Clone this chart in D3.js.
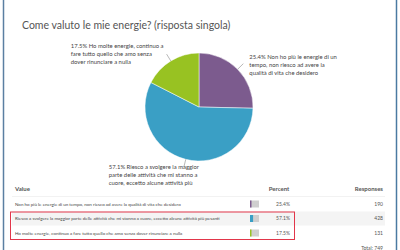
<!DOCTYPE html>
<html>
<head>
<meta charset="utf-8">
<script src="https://cdn.jsdelivr.net/npm/d3@7"></script>
<style>
  body { margin: 0; background: #fff; }
  svg { display: block; font-family: Lato, 'Open Sans', sans-serif; }
</style>
</head>
<body>
<div class="container"></div>
<script>
var title = 'Come valuto le mie energie? (risposta singola)';
var answers = [
  'Non ho più le energie di un tempo, non riesco ad avere la qualità di vita che desidero',
  'Riesco a svolgere la maggior parte delle attività che mi stanno a cuore, eccetto alcune attività più pesanti',
  'Ho molte energie, continuo a fare tutto quello che amo senza dover rinunciare a nulla'
];
var pieLabels = [
  ['25.4% Non ho più le energie di un', 'tempo, non riesco ad avere la', 'qualità di vita che desidero'],
  ['57.1% Riesco a svolgere la maggior', 'parte delle attività che mi stanno a', 'cuore, eccetto alcune attività più'],
  ['17.5% Ho molte energie, continuo a', 'fare tutto quello che amo senza', 'dover rinunciare a nulla']
];
var percents = [25.4, 57.1, 17.5];
var responses = [190, 428, 131];
var total = 749;
var colors = ['#7c5b8e', '#3a9fc5', '#98c222'];

buildChart();

function buildChart() {

  /* ===== SET UP =====*/

  var w = 400, h = 250;
  var svg = d3.select('.container')
    .append('svg')
    .attr('width', w)
    .attr('height', h);

  // frame borders
  svg.append('line')
    .attr('x1', 3.5).attr('x2', 3.5).attr('y1', 0).attr('y2', h)
    .attr('stroke', '#5b7fa2').attr('stroke-width', 1.5);
  svg.append('line')
    .attr('x1', 396.5).attr('x2', 396.5).attr('y1', 0).attr('y2', h)
    .attr('stroke', '#4a7aa2').attr('stroke-width', 1.5);

  svg.append('text')
    .attr('x', 22).attr('y', 28.5)
    .attr('font-size', '10.5px')
    .attr('fill', '#555')
    .text(title);

  /* ===== PIE =====*/

  var cx = 199, cy = 107, r = 54;
  var pie = d3.pie().sort(null).value(function(d) { return d; });
  var arcs = pie(responses);
  var arc = d3.arc().innerRadius(0).outerRadius(r);
  var inner = d3.arc().innerRadius(r).outerRadius(r);
  var outer = d3.arc().innerRadius(r + 8).outerRadius(r + 8);

  var g = svg.append('g').attr('transform', 'translate(' + cx + ',' + cy + ')');

  g.selectAll('path')
    .data(arcs)
    .enter()
    .append('path')
    .attr('d', arc)
    .attr('fill', function(d, i) { return colors[i]; })
    .attr('stroke', '#fff')
    .attr('stroke-width', 0.5);

  g.selectAll('line.leader')
    .data(arcs)
    .enter()
    .append('line')
    .attr('class', 'leader')
    .attr('x1', function(d) { return inner.centroid(d)[0]; })
    .attr('y1', function(d) { return inner.centroid(d)[1]; })
    .attr('x2', function(d) { return outer.centroid(d)[0]; })
    .attr('y2', function(d) { return outer.centroid(d)[1]; })
    .attr('stroke', '#999')
    .attr('stroke-width', 0.7);

  // label block shift relative to leader end (layout only)
  var labelShift = [[6, -5], [16, 2], [-3, -6]];

  arcs.forEach(function(d, i) {
    var p = outer.centroid(d);
    var right = p[0] > 0;
    var t = g.append('text')
      .attr('font-size', '5.9px')
      .attr('fill', '#444');
    pieLabels[i].forEach(function(line, j) {
      t.append('tspan')
        .attr('x', 0)
        .attr('y', j * 8)
        .text(line);
    });
    var bw = t.node().getBBox().width;
    var x0 = right ? p[0] + labelShift[i][0] : p[0] + labelShift[i][0] - bw;
    t.attr('transform', 'translate(' + x0 + ',' + (p[1] + labelShift[i][1]) + ')');
  });

  /* ===== TABLE =====*/

  var left = 12, rightEdge = 385;
  var headY = 189;
  var rowY = d3.scaleLinear().domain([0, 1]).range([204, 218.5]);

  svg.append('text').attr('x', 15).attr('y', headY + 2)
    .attr('font-size', '6px').attr('font-weight', 'bold').attr('fill', '#555')
    .text('Value');
  svg.append('text').attr('x', 279).attr('y', headY + 2).attr('text-anchor', 'middle')
    .attr('font-size', '6px').attr('font-weight', 'bold').attr('fill', '#555')
    .text('Percent');
  svg.append('text').attr('x', 383).attr('y', headY + 2).attr('text-anchor', 'end')
    .attr('font-size', '6px').attr('font-weight', 'bold').attr('fill', '#555')
    .text('Responses');
  svg.append('line')
    .attr('x1', left).attr('x2', rightEdge).attr('y1', 197).attr('y2', 197)
    .attr('stroke', '#ddd').attr('stroke-width', 0.8);

  var rows = svg.selectAll('g.row')
    .data(answers)
    .enter()
    .append('g')
    .attr('class', 'row')
    .attr('transform', function(d, i) { return 'translate(0,' + rowY(i) + ')'; });

  rows.append('rect')
    .attr('x', left).attr('y', -7).attr('width', rightEdge - left).attr('height', 14)
    .attr('fill', function(d, i) { return i % 2 ? '#f4f4f4' : '#fff'; });

  rows.append('text')
    .attr('x', 15).attr('y', 1.6)
    .attr('font-size', '4.5px').attr('fill', '#444')
    .text(function(d) { return d; });

  var barScale = d3.scaleLinear().domain([0, 100]).range([0, 9]);
  rows.append('rect')
    .attr('x', 250).attr('y', -3.5).attr('width', barScale(100)).attr('height', 7)
    .attr('fill', '#cfcfcf');
  rows.append('rect')
    .attr('x', 250).attr('y', -3.5)
    .attr('width', function(d, i) { return Math.max(1.5, barScale(percents[i]) * 0.6); })
    .attr('height', 7)
    .attr('fill', function(d, i) { return colors[i]; });

  rows.append('text')
    .attr('x', 283).attr('y', 1.8).attr('text-anchor', 'middle')
    .attr('font-size', '5px').attr('fill', '#555')
    .text(function(d, i) { return percents[i].toFixed(1) + '%'; });

  rows.append('text')
    .attr('x', 383).attr('y', 1.8).attr('text-anchor', 'end')
    .attr('font-size', '5px').attr('fill', '#555')
    .text(function(d, i) { return responses[i]; });

  svg.append('text')
    .attr('x', 383).attr('y', 249.5).attr('text-anchor', 'end')
    .attr('font-size', '5px').attr('fill', '#555')
    .text('Total: ' + total);

  // highlight box around rows 2 and 3
  svg.append('rect')
    .attr('x', 10.5).attr('y', rowY(1) - 6.5)
    .attr('width', 284).attr('height', rowY(2) - rowY(1) + 13)
    .attr('fill', 'none')
    .attr('stroke', '#e2364a')
    .attr('stroke-width', 1);
}
</script>
</body>
</html>
